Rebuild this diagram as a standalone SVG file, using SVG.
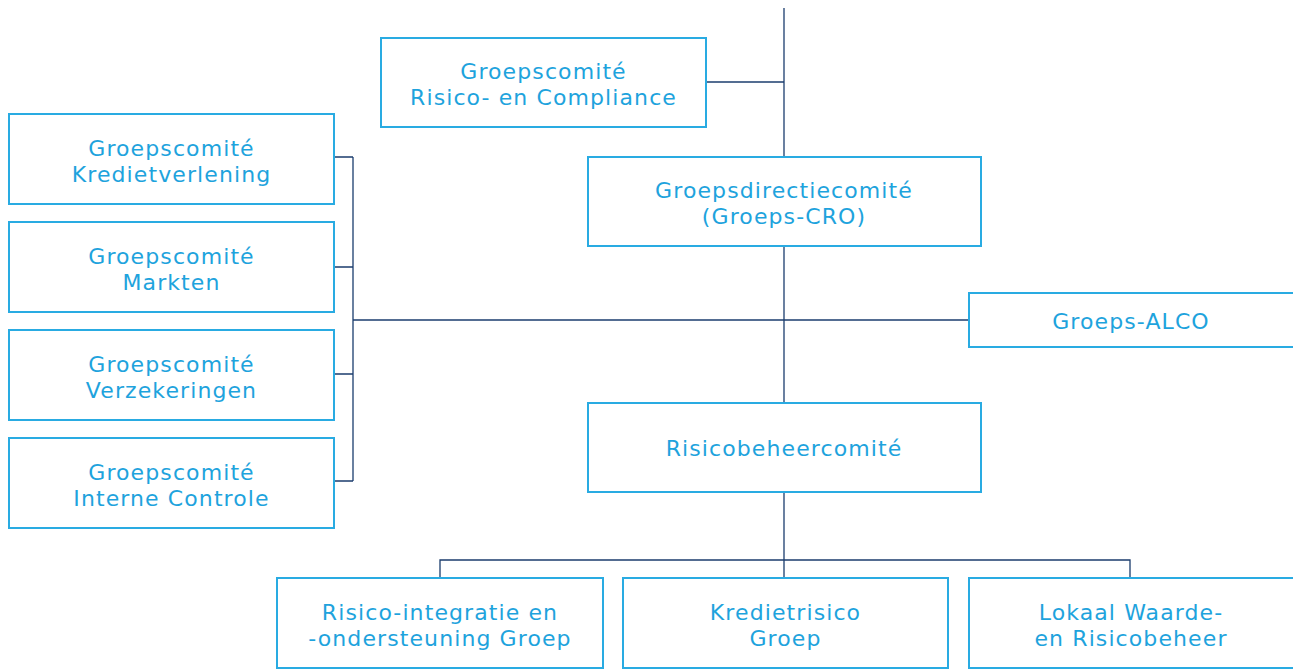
<svg xmlns="http://www.w3.org/2000/svg" width="1293" height="669" viewBox="0 0 1293 669">
<style>
.box{fill:#fff;stroke:#29abe2;stroke-width:2}
.t{font-family:"DejaVu Sans","Liberation Sans",sans-serif;font-size:22px;letter-spacing:1.1px;fill:#1ea3dd;text-anchor:middle}
.c{stroke:#1b3d6e;stroke-width:1.3;fill:none}
</style>
<rect width="1293" height="669" fill="#fff"/>
<g id="connectors">
<path class="c" d="M784 8V560"/>
<path class="c" d="M706 82H784"/>
<path class="c" d="M353 320H969"/>
<path class="c" d="M353 157V481M334 157H353M334 267H353M334 374H353M334 481H353"/>
<path class="c" d="M440 578V560H1130V578M784 560V578"/>
</g>
<g id="n-compliance"><rect class="box" x="381" y="38" width="325" height="89"/><text class="t" x="543.5" y="79">Groepscomité</text><text class="t" x="543.5" y="105">Risico- en Compliance</text></g>
<g id="n-directie"><rect class="box" x="588" y="157" width="393" height="89"/><text class="t" x="784" y="198">Groepsdirectiecomité</text><text class="t" x="784" y="224">(Groeps-CRO)</text></g>
<g id="n-alco"><rect class="box" x="969" y="293" width="330" height="54"/><text class="t" x="1131" y="329">Groeps-ALCO</text></g>
<g id="n-krediet"><rect class="box" x="9" y="114" width="325" height="90"/><text class="t" x="171.5" y="156">Groepscomité</text><text class="t" x="171.5" y="182">Kredietverlening</text></g>
<g id="n-markten"><rect class="box" x="9" y="222" width="325" height="90"/><text class="t" x="171.5" y="264">Groepscomité</text><text class="t" x="171.5" y="290">Markten</text></g>
<g id="n-verzekeringen"><rect class="box" x="9" y="330" width="325" height="90"/><text class="t" x="171.5" y="372">Groepscomité</text><text class="t" x="171.5" y="398">Verzekeringen</text></g>
<g id="n-interne"><rect class="box" x="9" y="438" width="325" height="90"/><text class="t" x="171.5" y="480">Groepscomité</text><text class="t" x="171.5" y="506">Interne Controle</text></g>
<g id="n-risicobeheer"><rect class="box" x="588" y="403" width="393" height="89"/><text class="t" x="784" y="456">Risicobeheercomité</text></g>
<g id="n-integratie"><rect class="box" x="277" y="578" width="326" height="90"/><text class="t" x="440" y="620">Risico-integratie en</text><text class="t" x="440" y="646">-ondersteuning Groep</text></g>
<g id="n-kredietrisico"><rect class="box" x="623" y="578" width="325" height="90"/><text class="t" x="785.5" y="620">Kredietrisico</text><text class="t" x="785.5" y="646">Groep</text></g>
<g id="n-lokaal"><rect class="box" x="969" y="578" width="330" height="90"/><text class="t" x="1131" y="620">Lokaal Waarde-</text><text class="t" x="1131" y="646">en Risicobeheer</text></g>
</svg>
